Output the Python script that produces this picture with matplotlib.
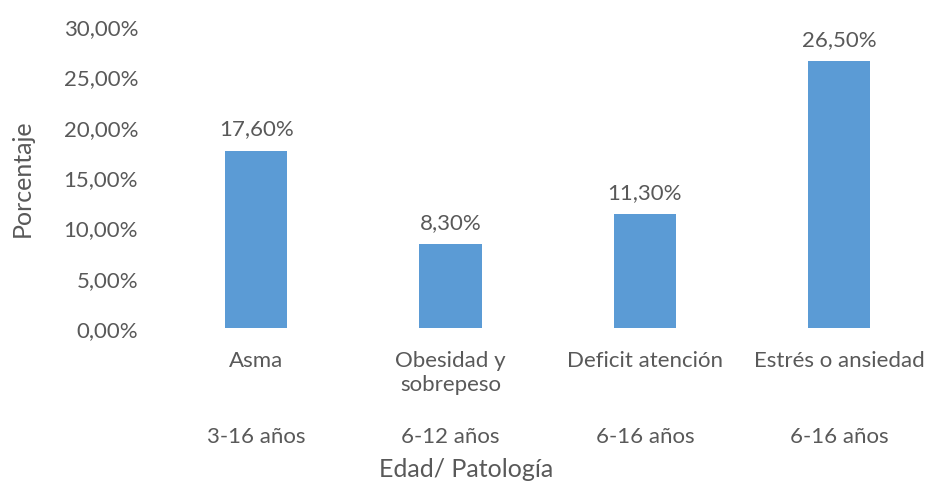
import matplotlib
matplotlib.use("Agg")
import matplotlib.pyplot as plt

categories = ["Asma", "Obesidad y\nsobrepeso", "Deficit atención", "Estrés o ansiedad"]
ages = ["3-16 años", "6-12 años", "6-16 años", "6-16 años"]
values = [17.6, 8.3, 11.3, 26.5]
yticks = [0, 5, 10, 15, 20, 25, 30]

plt.rcParams['font.family'] = ['Lato', 'DejaVu Sans']
gray = '#595959'
W, H = 928, 485
fig = plt.figure(figsize=(W/100, H/100), dpi=100)
left, right, top, bottom = 159, 936.5, 27, 329
ax = fig.add_axes([left/W, (H-bottom)/H, (right-left)/W, (bottom-top)/H])

x = range(len(values))
bars = ax.bar(x, values, width=0.32, color='#5B9BD5')
ax.set_xlim(-0.5, 3.5)
ax.set_ylim(0, 30)
ax.set_yticks(yticks)
ax.set_yticklabels([f"{v:.2f}".replace('.', ',') + '%' for v in yticks])
ax.tick_params(axis='y', length=0, pad=15, labelsize=16, labelcolor=gray)
ax.set_xticks(list(x))
ax.set_xticklabels(categories, linespacing=1.25)
ax.tick_params(axis='x', length=0, pad=16, labelsize=16, labelcolor=gray)
for s in ax.spines.values():
    s.set_visible(False)

for b, v in zip(bars, values):
    ax.annotate(f"{v:.2f}".replace('.', ',') + '%', (b.get_x()+b.get_width()/2, v),
                xytext=(0, 9), textcoords='offset points', ha='center', va='bottom',
                fontsize=16, color=gray)

for i, a in enumerate(ages):
    ax.text(i, -0.358, a, transform=ax.get_xaxis_transform(), ha='center', va='center',
            fontsize=16, color=gray)

fig.text(466/W, 1-470/H, "Edad/ Patología", ha='center', va='center', fontsize=18, color=gray)
fig.text(22/W, 1-178/H, "Porcentaje", ha='center', va='center', rotation=90, fontsize=18, color=gray)

fig.savefig("out.png", dpi=100)
